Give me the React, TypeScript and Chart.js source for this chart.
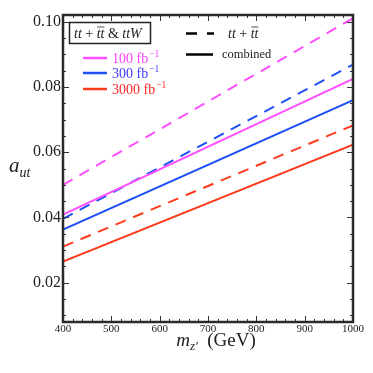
import React, { useEffect, useRef } from "react";
import { Chart, registerables } from "chart.js";

Chart.register(...registerables);

const massPoints = [400, 1000];
const ttbar100 = [0.05, 0.101];
const comb100 = [0.0409, 0.0824];
const ttbar300 = [0.0396, 0.0868];
const comb300 = [0.0363, 0.0759];
const ttbar3000 = [0.0311, 0.0682];
const comb3000 = [0.0265, 0.0623];

const xTicks = [400, 500, 600, 700, 800, 900, 1000];
const yTicks = [0.02, 0.04, 0.06, 0.08, 0.1];
const xMinorStep = 20;
const yMinorStep = 0.005;

const MAGENTA = "#ff50ff";
const BLUE = "#1f50f5";
const RED = "#ff3c1e";
const SERIF = '"Liberation Serif", "DejaVu Serif", serif';

const pts = (ys: number[]) => massPoints.map((x, i) => ({ x, y: ys[i] }));

const decorPlugin = {
  id: "decor",
  afterDatasetsDraw(chart: any) {
    const { ctx, chartArea: a, scales } = chart;
    const xs = scales.x;
    const ys = scales.y;
    ctx.save();
    // ticks
    ctx.strokeStyle = "#333";
    ctx.lineWidth = 1;
    const drawX = (v: number, len: number) => {
      const px = Math.round(xs.getPixelForValue(v)) + 0.5;
      ctx.beginPath();
      ctx.moveTo(px, a.bottom);
      ctx.lineTo(px, a.bottom - len);
      ctx.moveTo(px, a.top);
      ctx.lineTo(px, a.top + len);
      ctx.stroke();
    };
    const drawY = (v: number, len: number) => {
      const py = Math.round(ys.getPixelForValue(v)) + 0.5;
      ctx.beginPath();
      ctx.moveTo(a.left, py);
      ctx.lineTo(a.left + len, py);
      ctx.moveTo(a.right, py);
      ctx.lineTo(a.right - len, py);
      ctx.stroke();
    };
    for (let v = xs.min; v <= xs.max + 1e-9; v += xMinorStep) {
      const major = xTicks.some((t) => Math.abs(t - v) < 1e-6);
      drawX(v, major ? 6 : 3);
    }
    const y0 = Math.ceil(ys.min / yMinorStep - 1e-9) * yMinorStep;
    for (let v = y0; v <= ys.max + 1e-9; v += yMinorStep) {
      const major = yTicks.some((t) => Math.abs(t - v) < 1e-6);
      drawY(v, major ? 6 : 3);
    }
    // frame
    ctx.strokeStyle = "#2a2a2a";
    ctx.lineWidth = 2.5;
    ctx.strokeRect(a.left, a.top, a.right - a.left, a.bottom - a.top);

    // legend box
    ctx.fillStyle = "#fff";
    ctx.fillRect(69.5, 22.5, 81, 21);
    ctx.strokeStyle = "#222";
    ctx.lineWidth = 1.5;
    ctx.strokeRect(69.5, 22.5, 81, 21);

    const drawProc = (x: number, y: number, withTTW: boolean) => {
      ctx.fillStyle = "#222";
      ctx.textBaseline = "alphabetic";
      ctx.textAlign = "left";
      const it = "italic 14px " + SERIF;
      const rm = "14px " + SERIF;
      let cx = x;
      const part = (t: string, f: string, over = false) => {
        ctx.font = f;
        ctx.fillText(t, cx, y);
        const w = ctx.measureText(t).width;
        if (over) {
          ctx.beginPath();
          ctx.strokeStyle = "#222";
          ctx.lineWidth = 0.8;
          ctx.moveTo(cx + 0.5, y - 11);
          ctx.lineTo(cx + w, y - 11);
          ctx.stroke();
        }
        cx += w;
      };
      part("tt", it);
      part(" + ", rm);
      part("tt", it, true);
      if (withTTW) {
        part(" & ", rm);
        part("ttW", it);
      }
    };
    drawProc(74, 38, true);

    // luminosity legend
    const lum = [
      { c: MAGENTA, t: "100 fb", tc: "#ff40ff", y: 58 },
      { c: BLUE, t: "300 fb", tc: "#3c3cff", y: 73 },
      { c: RED, t: "3000 fb", tc: "#ff2828", y: 89 },
    ];
    lum.forEach((l) => {
      ctx.strokeStyle = l.c;
      ctx.lineWidth = 2.5;
      ctx.setLineDash([]);
      ctx.beginPath();
      ctx.moveTo(83, l.y);
      ctx.lineTo(107, l.y);
      ctx.stroke();
      ctx.fillStyle = l.tc;
      ctx.font = "14px " + SERIF;
      ctx.fillText(l.t, 112, l.y + 5);
      const w = ctx.measureText(l.t).width;
      ctx.font = "9.5px " + SERIF;
      ctx.fillText("\u22121", 112 + w + 1, l.y - 1);
    });

    // style legend
    ctx.strokeStyle = "#000";
    ctx.lineWidth = 2.5;
    ctx.setLineDash([11, 10]);
    ctx.beginPath();
    ctx.moveTo(186, 33.5);
    ctx.lineTo(214, 33.5);
    ctx.stroke();
    ctx.setLineDash([]);
    ctx.beginPath();
    ctx.moveTo(186, 54.5);
    ctx.lineTo(213, 54.5);
    ctx.stroke();
    drawProc(228, 38, false);
    ctx.fillStyle = "#222";
    ctx.font = "12.5px " + SERIF;
    ctx.fillText("combined", 222, 58);

    // axis titles
    ctx.fillStyle = "#222";
    ctx.font = "italic 21px " + SERIF;
    ctx.fillText("a", 9, 172);
    const aw = ctx.measureText("a").width;
    ctx.font = "italic 14px " + SERIF;
    ctx.fillText("ut", 9 + aw, 177);

    // x title
    const mF = "italic 19px " + SERIF;
    const zF = "italic 13px " + SERIF;
    const gF = "19px " + SERIF;
    ctx.font = mF;
    const mw = ctx.measureText("m").width;
    ctx.font = zF;
    const zw = ctx.measureText("z\u2032").width;
    ctx.font = gF;
    const gw = ctx.measureText("  (GeV)").width;
    let sx = 216 - (mw + zw + gw) / 2;
    const by = 346;
    ctx.font = mF;
    ctx.fillText("m", sx, by);
    sx += mw;
    ctx.font = zF;
    ctx.fillText("z\u2032", sx, by + 4);
    sx += zw;
    ctx.font = gF;
    ctx.fillText("  (GeV)", sx, by);
    ctx.restore();
  },
};

export default function App() {
  const ref = useRef<HTMLCanvasElement | null>(null);
  useEffect(() => {
    if (!ref.current) return;
    const ds = (label: string, ys: number[], color: string, dashed: boolean) => ({
      label,
      data: pts(ys),
      borderColor: color,
      backgroundColor: color,
      borderWidth: 2,
      borderDash: dashed ? [11, 8] : [],
      pointRadius: 0,
      fill: false,
      tension: 0,
    });
    const chart = new Chart(ref.current, {
      type: "line",
      data: {
        datasets: [
          ds("tt+tt 100 fb-1", ttbar100, MAGENTA, true),
          ds("combined 100 fb-1", comb100, MAGENTA, false),
          ds("tt+tt 300 fb-1", ttbar300, BLUE, true),
          ds("combined 300 fb-1", comb300, BLUE, false),
          ds("tt+tt 3000 fb-1", ttbar3000, RED, true),
          ds("combined 3000 fb-1", comb3000, RED, false),
        ],
      },
      options: {
        animation: false,
        responsive: false,
        layout: { padding: { left: 0, right: 20, top: 15, bottom: 0 } },
        plugins: { legend: { display: false }, tooltip: { enabled: false } },
        scales: {
          x: {
            type: "linear",
            min: 400,
            max: 1000,
            grid: { display: false, drawTicks: false, tickLength: 0 },
            border: { display: false },
            afterBuildTicks: (s: any) => {
              s.ticks = xTicks.map((v) => ({ value: v }));
            },
            afterFit: (s: any) => {
              s.height = 51;
            },
            ticks: {
              autoSkip: false,
              maxRotation: 0,
              padding: 1,
              color: "#222",
              font: { family: SERIF, size: 11 },
              callback: (v: any) => String(v),
            },
          },
          y: {
            type: "linear",
            min: 0.008,
            max: 0.102,
            grid: { display: false, drawTicks: false, tickLength: 0 },
            border: { display: false },
            afterBuildTicks: (s: any) => {
              s.ticks = yTicks.map((v) => ({ value: v }));
            },
            afterFit: (s: any) => {
              s.width = 63;
            },
            ticks: {
              autoSkip: false,
              padding: 2,
              color: "#222",
              font: { family: SERIF, size: 16 },
              callback: (v: any) => Number(v).toFixed(2),
            },
          },
        },
      },
      plugins: [decorPlugin],
    } as any);
    return () => chart.destroy();
  }, []);
  return (
    <div style={{ position: "absolute", left: 0, top: 0, width: 373, height: 373, background: "#fff" }}>
      <canvas ref={ref} width={373} height={373} style={{ display: "block" }} />
    </div>
  );
}
